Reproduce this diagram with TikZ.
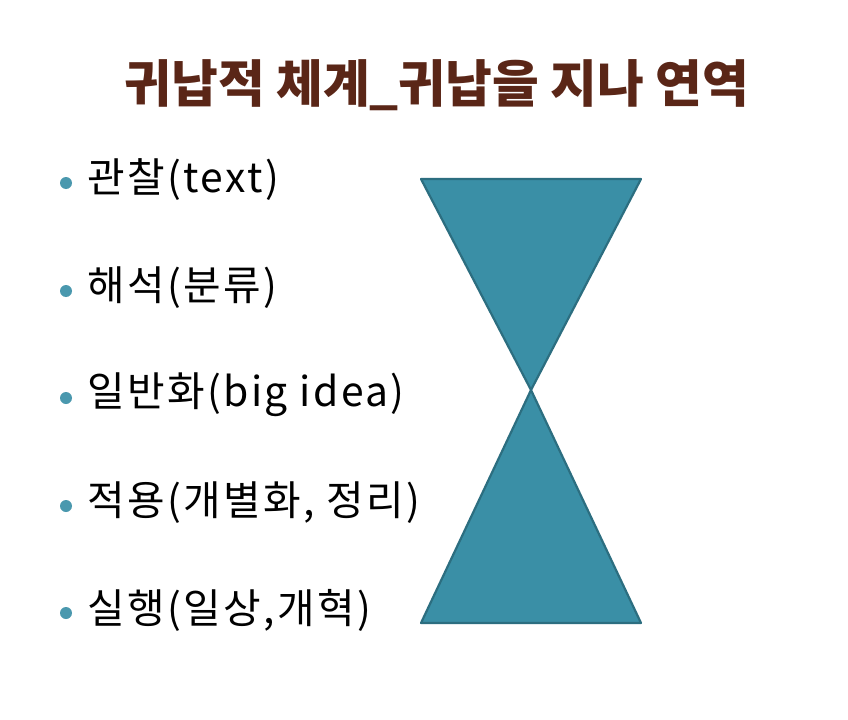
\documentclass[tikz,border=0pt]{standalone}
\usepackage{fontspec}
\setmainfont{Noto Sans CJK KR}
\newfontfamily\titlefont{Noto Sans CJK KR Black}
\newfontfamily\itemfont[LetterSpace=6]{Noto Sans CJK KR}
\definecolor{titlebrown}{HTML}{5A2617}
\definecolor{tealfill}{HTML}{3A8FA6}
\definecolor{tealline}{HTML}{2C6E80}
\definecolor{bulletteal}{HTML}{4A98AE}
\tikzset{
  itemtext/.style={anchor=west, inner sep=0pt, font=\itemfont\fontsize{41}{48}\selectfont, text=black},
  bulletdot/.style={circle, fill=bulletteal, inner sep=0pt, minimum size=12bp},
  tri/.style={fill=tealfill, draw=tealline, line width=2.2bp, line join=round}
}
\begin{document}
\begin{tikzpicture}[x=1bp, y=-1bp]
\useasboundingbox[fill=white] (0,0) rectangle (848,720);
% title
\node[text=titlebrown, font=\titlefont\fontsize{51}{58}\selectfont, inner sep=0pt] (title) at (437,85) {귀납적 체계\_귀납을 지나 연역};
% bullets
\node[bulletdot] (b1) at (66,183) {};
\node[bulletdot] (b2) at (66,291) {};
\node[bulletdot] (b3) at (66,398) {};
\node[bulletdot] (b4) at (66,506) {};
\node[bulletdot] (b5) at (66,613) {};
\node[itemtext] (t1) at (87,180) {관찰(text)};
\node[itemtext] (t2) at (87,288) {해석(분류)};
\node[itemtext] (t3) at (87,395) {일반화(big idea)};
\node[itemtext] (t4) at (87,503) {적용(개별화, 정리)};
\node[itemtext] (t5) at (87,610) {실행(일상,개혁)};
% hourglass
\coordinate (tl) at (421,179);
\coordinate (tr) at (641,179);
\coordinate (mid) at (531,390);
\coordinate (bl) at (421,623);
\coordinate (br) at (641,623);
\draw[tri] (tl) -- (tr) -- (mid) -- cycle;
\draw[tri] (mid) -- (br) -- (bl) -- cycle;
\end{tikzpicture}
\end{document}
